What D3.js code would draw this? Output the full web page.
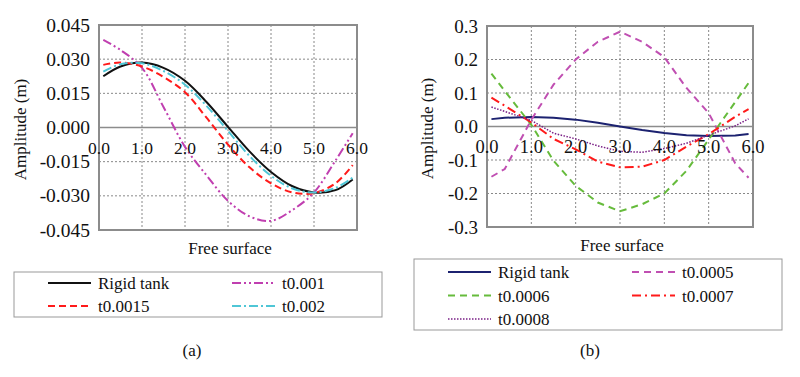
<!DOCTYPE html>
<meta charset="utf-8">
<head>
    <meta charset="utf-8">
    <title>Free surface amplitude</title>
    <script src="https://d3js.org/d3.v7.min.js" charset="utf-8"></script>
    <style>
        html, body { margin: 0; padding: 0; background: #fff; }
        svg { display: block; }
        svg text { font-family: "Liberation Serif", "Times New Roman", "DejaVu Serif", serif; }
        .grid line { stroke: #888; stroke-width: 1; stroke-dasharray: 2,2; }
        .frame { fill: none; stroke: #8c8c8c; stroke-width: 2; }
        .zero { stroke: #8c8c8c; stroke-width: 1.5; }
        .tick-label { fill: #111; }
        .title { font-size: 17px; fill: #111; }
        .legend-box { fill: #fff; stroke: #999; stroke-width: 1; }
        .series { fill: none; }
    </style>
</head>
<body>
<svg width="800" height="377"></svg>
<script>

// ---- data (a) ----
var xA = [0.1, 0.5, 1.0, 1.5, 2.0, 2.5, 3.0, 3.5, 4.0, 4.5, 5.0, 5.5, 5.9];
var rigidA = [0.0225, 0.0268, 0.0285, 0.0262, 0.0205, 0.0112, 0.0003, -0.0105, -0.0195, -0.0258, -0.0285, -0.0275, -0.0228];
var t001   = [0.0385, 0.0340, 0.0262, 0.0090, -0.0085, -0.0210, -0.0322, -0.0390, -0.0410, -0.0362, -0.0285, -0.0145, -0.0025];
var t0015  = [0.0275, 0.0285, 0.0268, 0.0222, 0.0155, 0.0043, -0.0075, -0.0175, -0.0245, -0.0285, -0.0288, -0.0245, -0.0165];
var t002   = [0.0245, 0.0278, 0.0282, 0.0248, 0.0188, 0.0095, -0.0015, -0.0125, -0.0212, -0.0268, -0.0285, -0.0265, -0.0220];
var yTicksA = [0.045, 0.030, 0.015, 0.000, -0.015, -0.030, -0.045];

// ---- data (b) ----
var xB = [0.1, 0.4, 1.0, 1.5, 2.0, 2.5, 3.0, 3.5, 4.0, 4.5, 5.0, 5.6, 5.9];
var rigidB = [0.022, 0.026, 0.0285, 0.026, 0.0205, 0.011, 0.0, -0.0105, -0.0195, -0.026, -0.0285, -0.027, -0.0225];
var t0005  = [-0.150, -0.127, 0.020, 0.125, 0.200, 0.253, 0.283, 0.253, 0.207, 0.115, 0.040, -0.110, -0.153];
var t0006  = [0.158, 0.106, 0.005, -0.102, -0.177, -0.227, -0.253, -0.232, -0.200, -0.132, -0.039, 0.073, 0.130];
var t0007  = [0.086, 0.062, 0.012, -0.037, -0.068, -0.105, -0.122, -0.120, -0.100, -0.060, -0.023, 0.029, 0.052];
var t0008  = [0.058, 0.045, 0.018, -0.020, -0.037, -0.058, -0.074, -0.077, -0.066, -0.050, -0.026, 0.002, 0.023];
var yTicksB = [0.3, 0.2, 0.1, 0.0, -0.1, -0.2, -0.3];

var xTicks = [0, 1, 2, 3, 4, 5, 6];

var FONT = "'Liberation Serif', 'Times New Roman', serif";

var svg = d3.select("svg");

// plain hyphen for negatives, like the original
var locale = d3.formatLocale({decimal: ".", thousands: ",", grouping: [3], currency: ["", ""], minus: "-"});

function drawPanel(p) {
    var x = d3.scaleLinear().domain([0, 6]).range([p.left, p.right]);
    var y = d3.scaleLinear().domain([p.yMin, p.yMax]).range([p.bottom, p.top]);
    var g = svg.append("g").attr("font-family", FONT);

    // grid
    var grid = g.append("g").attr("class", "grid");
    grid.selectAll(".v").data(xTicks.slice(1, -1)).join("line")
        .attr("x1", d => x(d)).attr("x2", d => x(d))
        .attr("y1", p.top).attr("y2", p.bottom);
    grid.selectAll(".h").data(p.yTicks.filter(d => d !== 0 && d !== p.yMin && d !== p.yMax)).join("line")
        .attr("x1", p.left).attr("x2", p.right)
        .attr("y1", d => y(d)).attr("y2", d => y(d));

    g.append("line").attr("class", "zero")
        .attr("x1", p.left).attr("x2", p.right)
        .attr("y1", y(0)).attr("y2", y(0));

    g.append("rect").attr("class", "frame")
        .attr("x", p.left).attr("y", p.top)
        .attr("width", p.right - p.left).attr("height", p.bottom - p.top);

    // series
    p.series.forEach(function(s) {
        var pts = p.xs.map((v, i) => [v, s.values[i]]);
        g.append("path").datum(pts)
            .attr("class", "series")
            .attr("stroke", s.color)
            .attr("stroke-width", s.width)
            .attr("stroke-dasharray", s.dash)
            .attr("d", d3.line().x(d => x(d[0])).y(d => y(d[1])).curve(p.curve));
    });

    // y labels
    g.selectAll(".yl").data(p.yTicks).join("text")
        .attr("class", "tick-label")
        .attr("font-size", p.yFont)
        .attr("x", p.left - 9).attr("y", d => y(d) + 6.5)
        .attr("text-anchor", "end")
        .text(d => locale.format(p.fmt)(d));

    // x labels (below zero line)
    g.selectAll(".xl").data(xTicks).join("text")
        .attr("class", "tick-label")
        .attr("font-size", p.xFont)
        .attr("x", d => x(d)).attr("y", y(0) + 26)
        .attr("text-anchor", "middle")
        .text(d => locale.format(".1f")(d));

    g.append("text").attr("class", "title")
        .attr("transform", "translate(" + p.yTitleX + "," + ((p.top + p.bottom) / 2 + 2) + ") rotate(-90)")
        .attr("text-anchor", "middle")
        .text("Amplitude (m)");

    g.append("text").attr("class", "title")
        .attr("x", (p.left + p.right) / 2 + 2).attr("y", p.bottom + 24)
        .attr("text-anchor", "middle")
        .text("Free surface");

    // legend
    var L = p.legend;
    g.append("rect").attr("class", "legend-box")
        .attr("x", L.x).attr("y", L.y).attr("width", L.w).attr("height", L.h);
    p.series.forEach(function(s, i) {
        var col = i % 2, row = Math.floor(i / 2);
        var lx = L.x + L.col[col], ly = L.y + L.row0 + row * L.rowH;
        g.append("line")
            .attr("x1", lx).attr("x2", lx + 43)
            .attr("y1", ly).attr("y2", ly)
            .attr("stroke", s.color).attr("stroke-width", s.width)
            .attr("stroke-dasharray", s.dash);
        g.append("text").attr("class", "title")
            .attr("x", lx + 50).attr("y", ly + 6)
            .text(s.name);
    });

    g.append("text").attr("class", "title")
        .attr("x", p.capX).attr("y", 356)
        .attr("text-anchor", "middle")
        .text(p.caption);
}

drawPanel({
    left: 99, right: 357, top: 25, bottom: 230,
    yMin: -0.045, yMax: 0.045, yTicks: yTicksA, fmt: ".3f",
    xs: xA, curve: d3.curveCatmullRom,
    yTitleX: 26, yFont: "19.5px", xFont: "17.5px",
    series: [
        {name: "Rigid tank", values: rigidA, color: "#111111", width: 2, dash: null},
        {name: "t0.001", values: t001, color: "#C03FB0", width: 2, dash: "9,3,2,3,2,3"},
        {name: "t0.0015", values: t0015, color: "#FF1A1A", width: 2, dash: "7,4"},
        {name: "t0.002", values: t002, color: "#4FC6D6", width: 2, dash: "9,3,2,3"}
    ],
    legend: {x: 14, y: 272, w: 368, h: 45, col: [34, 218], row0: 11, rowH: 23},
    capX: 192, caption: "(a)"
});

drawPanel({
    left: 487, right: 753, top: 26, bottom: 227,
    yMin: -0.3, yMax: 0.3, yTicks: yTicksB, fmt: ".1f",
    xs: xB, curve: d3.curveLinear,
    yTitleX: 433, yFont: "19px", xFont: "18.5px",
    series: [
        {name: "Rigid tank", values: rigidB, color: "#1C2270", width: 2, dash: null},
        {name: "t0.0005", values: t0005, color: "#C04FB2", width: 2, dash: "7,5"},
        {name: "t0.0006", values: t0006, color: "#66BB3C", width: 2, dash: "7,5"},
        {name: "t0.0007", values: t0007, color: "#FF1A1A", width: 2, dash: "9,4,2,4"},
        {name: "t0.0008", values: t0008, color: "#7A1F86", width: 1.5, dash: "1.5,1.5"}
    ],
    legend: {x: 414, y: 259, w: 368, h: 71, col: [34, 218], row0: 13, rowH: 23.5},
    capX: 590, caption: "(b)"
});

</script>
</body>
</html>
